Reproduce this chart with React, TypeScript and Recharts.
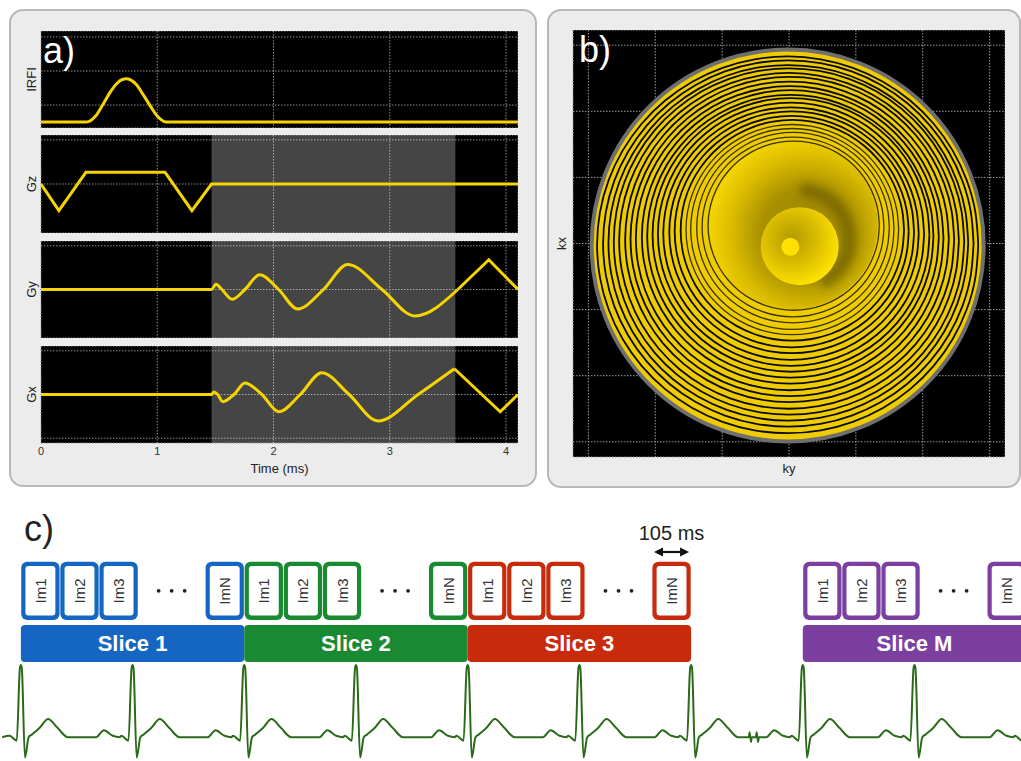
import React from "react";
import {
  LineChart,
  ComposedChart,
  Line,
  XAxis,
  YAxis,
  CartesianGrid,
  ReferenceArea,
  ReferenceDot,
} from "recharts";

// ---------- a) gradient waveforms (time in ms) ----------
const timeTicks = [0, 1, 2, 3, 4];
const timeMax = 4.103;
const readoutWindow = [1.467, 3.564];

const irfiT = [0, 0.38, 0.42, 0.47, 0.53, 0.59, 0.65, 0.7, 0.735, 0.77, 0.82, 0.88, 0.94, 1.0, 1.05, 1.08, 4.103];
const irfiV = [0, 0, 0.06, 0.35, 1.0, 1.7, 2.25, 2.5, 2.54, 2.48, 2.2, 1.6, 0.95, 0.35, 0.06, 0, 0];

const gzT = [0, 0.154, 0.386, 1.067, 1.298, 1.467, 4.103];
const gzV = [0, -1.21, 0.53, 0.53, -1.21, 0, 0];

const gyT = [0, 1.467, 1.505, 1.556, 1.644, 1.754, 1.881, 2.044, 2.207, 2.43, 2.637, 2.933, 3.215, 3.585];
const gyV = [0, 0, 0.24, 0, -0.45, 0, 0.68, 0, -0.89, 0, 1.15, 0, -1.21, 0];
const gyRewindT = [3.585, 3.852, 4.103];
const gyRewindV = [0, 1.36, 0];

const gxT = [0, 1.467, 1.487, 1.52, 1.564, 1.66, 1.754, 1.9, 2.044, 2.23, 2.415, 2.65, 2.898, 3.244, 3.556];
const gxV = [0, 0, 0.12, 0, -0.33, 0, 0.53, 0, -0.79, 0, 1.0, 0, -1.21, 0, 1.18];
const gxRewindT = [3.556, 3.95, 4.103];
const gxRewindV = [1.18, -0.79, 0];

// ---------- b) spiral k-space ----------
const kTicks = [-3, -2, -1, 0, 1, 2, 3];
const ringAngles = [0, 10, 20, 30, 40, 50, 60, 70, 80, 90, 100, 110, 120, 130, 140, 150, 160, 170, 180, 190, 200, 210, 220, 230, 240, 250, 260, 270, 280, 290, 300, 310, 320, 330, 340, 350, 360];
const ringRadius = [1.28, 1.36, 1.44, 1.52, 1.59, 1.67, 1.75, 1.83, 1.91, 1.99, 2.07, 2.14, 2.22, 2.3, 2.38, 2.46, 2.54, 2.62, 2.69, 2.77, 2.85];
const ringCenterKy = [0.07, 0.06, 0.06, 0.05, 0.05, 0.05, 0.04, 0.04, 0.03, 0.03, 0.03, 0.02, 0.02, 0.01, 0.01, 0.01, 0, 0, -0.01, -0.01, -0.02];
const ringCenterKx = [0.27, 0.25, 0.24, 0.22, 0.21, 0.2, 0.18, 0.17, 0.15, 0.14, 0.13, 0.11, 0.1, 0.08, 0.07, 0.06, 0.04, 0.03, 0.01, 0, -0.02];
// shaded band just outside the central turn
const curlKy = [0.49, 0.76, 0.9, 0.84, 0.58, 0.18];
const curlKx = [-0.61, -0.39, -0.04, 0.36, 0.68, 0.83];

// ---------- c) acquisition timing (ms) ----------
const sliceNames = ["Slice 1", "Slice 2", "Slice 3", "Slice M"];
const sliceStart = [0, 600, 1200, 2100];
const sliceLength = 600;
const imageNames = ["Im1", "Im2", "Im3", "ImN"];
const imageOffset = [0, 105, 210, 495];
const imageLength = 105;
const ellipsisRange = [315, 495];

const ecgBeats = [0, 300, 600, 900, 1200, 1500, 1800, 2100, 2400, 2700];
const ecgBeatT = [-30, -11, -2.5, 0, 2.5, 11, 21, 30, 50, 73, 99, 126, 202, 223, 247, 265];
const ecgBeatV = [0.02, -0.05, 0.99, 1.03, 0.99, -0.29, 0, 0.04, 0.13, 0.26, 0.13, 0, 0, 0.1, 0.02, 0];
const ecgBreakT = [1955, 1957, 1961, 1963, 1974, 1976, 1980, 1982];
const ecgBreakV = [0, 0.07, -0.07, 0, 0, 0.07, -0.07, 0];

const sliceColors = ["#1565c2", "#1a8a32", "#c82a0c", "#7b3f9f"];
const YELLOW = "#f6d400";
const FONT = "'Liberation Sans', Arial, Helvetica, sans-serif";

const zip = (ts: number[], vs: number[]) => ts.map((t, i) => ({ t, v: vs[i] }));

const rows = [
  { label: "IRFI", top: 31, height: 97, domain: [-0.35, 5.35], ticks: [0, 1, 2, 3, 4, 5], shaded: false,
    series: [{ data: zip(irfiT, irfiV), type: "monotone" }] },
  { label: "Gz", top: 135, height: 98, domain: [-2.22, 2.22], ticks: [-2, -1, 0, 1, 2], shaded: true,
    series: [{ data: zip(gzT, gzV), type: "linear" }] },
  { label: "Gy", top: 241, height: 97, domain: [-2.22, 2.22], ticks: [-2, -1, 0, 1, 2], shaded: true,
    series: [{ data: zip(gyT, gyV), type: "monotone" }, { data: zip(gyRewindT, gyRewindV), type: "linear" }] },
  { label: "Gx", top: 346, height: 97, domain: [-2.22, 2.22], ticks: [-2, -1, 0, 1, 2], shaded: true, showTime: true,
    series: [{ data: zip(gxT, gxV), type: "monotone" }, { data: zip(gxRewindT, gxRewindV), type: "linear" }] },
];

const rings = ringRadius.map((r, i) =>
  ringAngles.map((a) => ({
    ky: ringCenterKy[i] + r * Math.cos((a * Math.PI) / 180),
    kx: ringCenterKx[i] + r * Math.sin((a * Math.PI) / 180),
  }))
);
const curl = curlKy.map((ky, i) => ({ ky, kx: curlKx[i] }));

const ecgData = [
  { t: -50, v: 0 },
  ...ecgBeats.flatMap((b) => ecgBeatT.map((dt, i) => ({ t: b + dt, v: ecgBeatV[i] }))),
  ...zip(ecgBreakT, ecgBreakV),
].sort((a, b) => a.t - b.t);

// ticks are kept (the grid needs them) but nothing is drawn for them
const noTick = () => <g />;

function WaveRow({ row }: { row: any }) {
  const axisH = row.showTime ? 36 : 0;
  return (
    <div style={{ position: "absolute", left: 22, top: row.top }}>
      <LineChart width={496} height={row.height + axisH} margin={{ top: 0, right: 0, bottom: 0, left: 0 }}>
        <CartesianGrid fill="#000" fillOpacity={1} stroke="#8c8c8c" strokeDasharray="1.5 1.5" />
        <XAxis
          type="number"
          dataKey="t"
          domain={[0, timeMax]}
          ticks={timeTicks}
          allowDataOverflow
          hide={!row.showTime}
          axisLine={false}
          tickLine={false}
          tickSize={0}
          tickMargin={4}
          height={36}
          tick={{ fill: "#333", fontSize: 11 }}
          label={{ value: "Time (ms)", position: "insideBottom", offset: 6, fill: "#222", fontSize: 13 }}
        />
        <YAxis
          type="number"
          domain={row.domain}
          ticks={row.ticks}
          allowDataOverflow
          width={19}
          tick={noTick}
          axisLine={false}
          tickLine={false}
          label={{ value: row.label, angle: -90, position: "center", fill: "#222", fontSize: 13 }}
        />
        {row.shaded && (
          <ReferenceArea
            x1={readoutWindow[0]}
            x2={readoutWindow[1]}
            fill="#ffffff"
            fillOpacity={0.27}
            stroke="none"
            zIndex={-50}
          />
        )}
        {row.series.map((s: any, i: number) => (
          <Line
            key={i}
            data={s.data}
            dataKey="v"
            type={s.type}
            stroke={YELLOW}
            strokeWidth={3}
            dot={false}
            isAnimationActive={false}
          />
        ))}
      </LineChart>
    </div>
  );
}

function SpiralPanel() {
  return (
    <div style={{ position: "absolute", left: 550, top: 30 }}>
      <LineChart width={455} height={449} margin={{ top: 0, right: 0, bottom: 0, left: 0 }}>
        <defs>
          <radialGradient id="innerGrad" cx="0.58" cy="0.55" r="0.6">
            <stop offset="0" stopColor="#9a8700" />
            <stop offset="0.45" stopColor="#a89000" />
            <stop offset="0.75" stopColor="#dabb00" />
            <stop offset="1" stopColor="#f7d700" />
          </radialGradient>
          <radialGradient id="coreGrad" cx="0.4" cy="0.4" r="0.62">
            <stop offset="0" stopColor="#b39a00" />
            <stop offset="0.5" stopColor="#d8bb00" />
            <stop offset="1" stopColor="#ffe200" />
          </radialGradient>
          <filter id="soft" x="-30%" y="-30%" width="160%" height="160%">
            <feGaussianBlur stdDeviation="5" />
          </filter>
        </defs>
        <CartesianGrid fill="#000" fillOpacity={1} stroke="#9a9a9a" strokeDasharray="1.5 1.5" />
        <XAxis
          type="number"
          dataKey="ky"
          domain={[-3.23, 3.23]}
          ticks={kTicks}
          allowDataOverflow
          tick={noTick}
          axisLine={false}
          tickLine={false}
          height={22}
          label={{ value: "ky", position: "center", fill: "#222", fontSize: 13 }}
        />
        <YAxis
          type="number"
          domain={[-3.23, 3.23]}
          ticks={kTicks}
          allowDataOverflow
          width={23}
          tick={noTick}
          axisLine={false}
          tickLine={false}
          label={{ value: "kx", angle: -90, position: "center", fill: "#222", fontSize: 13 }}
        />
        <ReferenceDot x={-0.02} y={-0.03} r={196} fill="#efcc00" stroke="#6f6f6f" strokeWidth={4} zIndex={-50} />
        <ReferenceDot x={0.07} y={0.28} r={84} fill="url(#innerGrad)" stroke="none" zIndex={-45} />
        <Line
          data={curl}
          dataKey="kx"
          type="natural"
          stroke="#4a4100"
          strokeOpacity={0.45}
          strokeWidth={14}
          filter="url(#soft)"
          dot={false}
          isAnimationActive={false}
          zIndex={-44}
        />
        <ReferenceDot x={0.16} y={-0.04} r={39} fill="url(#coreGrad)" stroke="none" zIndex={-43} />
        <ReferenceDot x={0.02} y={-0.05} r={9} fill="#ffe000" stroke="none" zIndex={-42} />
        {rings.map((d, i) => (
          <Line
            key={i}
            data={d}
            dataKey="kx"
            type="natural"
            stroke={i < 5 ? "#3a3300" : "#0a0a0a"}
            strokeWidth={i < 5 ? 1.3 : 1.8}
            dot={false}
            isAnimationActive={false}
          />
        ))}
      </LineChart>
    </div>
  );
}

const imageBox = (color: string, label: string) => (p: any) => {
  const { x, y, width: w, height: h } = p;
  const cx = x + w / 2;
  const cy = y + h / 2;
  return (
    <g>
      <rect x={x + 0.4} y={y} width={w - 0.8} height={h} rx={6} fill={color} />
      <rect x={x + 4.6} y={y + 4.4} width={w - 9.2} height={h - 8.8} rx={3} fill="#fff" />
      <text
        x={cx}
        y={cy}
        transform={`rotate(-90 ${cx} ${cy})`}
        textAnchor="middle"
        dominantBaseline="central"
        fontSize={15}
        fill="#333"
      >
        {label}
      </text>
    </g>
  );
};

const sliceBar = (color: string, label: string) => (p: any) => (
  <g>
    <rect x={p.x} y={p.y} width={p.width} height={p.height} rx={4} fill={color} />
    <text
      x={p.x + p.width / 2}
      y={p.y + p.height / 2}
      textAnchor="middle"
      dominantBaseline="central"
      fontSize={22}
      fontWeight="bold"
      fill="#fff"
    >
      {label}
    </text>
  </g>
);

const ellipsis = (p: any) => {
  const cx = p.x + p.width / 2;
  const cy = p.y + p.height / 2;
  return (
    <g fill="#222">
      <circle cx={cx - 13} cy={cy} r={1.9} />
      <circle cx={cx} cy={cy} r={1.9} />
      <circle cx={cx + 13} cy={cy} r={1.9} />
    </g>
  );
};

const durationArrow = (p: any) => {
  const y = p.y + p.height / 2;
  const x0 = p.x + 2;
  const x1 = p.x + p.width - 2;
  return (
    <g>
      <line x1={x0 + 6} y1={y} x2={x1 - 6} y2={y} stroke="#111" strokeWidth={2.2} />
      <polygon points={`${x0},${y} ${x0 + 9},${y - 4.5} ${x0 + 9},${y + 4.5}`} fill="#111" />
      <polygon points={`${x1},${y} ${x1 - 9},${y - 4.5} ${x1 - 9},${y + 4.5}`} fill="#111" />
      <text x={(x0 + x1) / 2} y={y - 12} textAnchor="middle" fontSize={20} fill="#222">
        {imageLength} ms
      </text>
    </g>
  );
};

function TimingPanel() {
  return (
    <div style={{ position: "absolute", left: 0, top: 495 }}>
      <ComposedChart width={1021} height={266} margin={{ top: 0, right: 0, bottom: 0, left: 0 }}>
        <XAxis type="number" dataKey="t" domain={[-56, 2686]} allowDataOverflow hide />
        <YAxis type="number" domain={[-0.34, 3.46]} allowDataOverflow hide />
        {sliceStart.map((s, i) => (
          <ReferenceArea
            key={"bar" + i}
            x1={s}
            x2={s + sliceLength}
            y1={1.074}
            y2={1.603}
            ifOverflow="visible"
            shape={sliceBar(sliceColors[i], sliceNames[i])}
          />
        ))}
        {sliceStart.map((s, i) =>
          imageOffset.map((o, j) => (
            <ReferenceArea
              key={"im" + i + "-" + j}
              x1={s + o}
              x2={s + o + imageLength}
              y1={1.674}
              y2={2.507}
              ifOverflow="visible"
              shape={imageBox(sliceColors[i], imageNames[j])}
            />
          ))
        )}
        {sliceStart.map((s, i) => (
          <ReferenceArea
            key={"dots" + i}
            x1={s + ellipsisRange[0]}
            x2={s + ellipsisRange[1]}
            y1={1.674}
            y2={2.507}
            ifOverflow="visible"
            shape={ellipsis}
          />
        ))}
        <ReferenceArea
          x1={sliceStart[2] + imageOffset[3]}
          x2={sliceStart[2] + imageOffset[3] + imageLength}
          y1={2.589}
          y2={2.703}
          ifOverflow="visible"
          shape={durationArrow}
        />
        <Line
          data={ecgData}
          dataKey="v"
          type="monotone"
          stroke="#2a6a1a"
          strokeWidth={2}
          dot={false}
          isAnimationActive={false}
        />
      </ComposedChart>
    </div>
  );
}

export default function App() {
  return (
    <div
      style={{
        position: "absolute",
        left: 0,
        top: 0,
        width: 1021,
        height: 761,
        overflow: "hidden",
        background: "#fff",
        fontFamily: FONT,
      }}
    >
      <div
        style={{
          position: "absolute",
          left: 9,
          top: 9,
          width: 524,
          height: 474,
          background: "#ececec",
          border: "2.5px solid #b8b8b8",
          borderRadius: 14,
        }}
      />
      <div
        style={{
          position: "absolute",
          left: 547,
          top: 9,
          width: 470,
          height: 475,
          background: "#ececec",
          border: "2.5px solid #b8b8b8",
          borderRadius: 14,
        }}
      />
      {rows.map((r) => (
        <WaveRow key={r.label} row={r} />
      ))}
      <SpiralPanel />
      <TimingPanel />
      <svg
        width={1021}
        height={761}
        style={{ position: "absolute", left: 0, top: 0, pointerEvents: "none" }}
      >
        <text x={43} y={63} fontSize={36} fill="#fff">a)</text>
        <text x={579} y={62} fontSize={36} fill="#fff">b)</text>
        <text x={24} y={541} fontSize={36} fill="#222">c)</text>
      </svg>
    </div>
  );
}
